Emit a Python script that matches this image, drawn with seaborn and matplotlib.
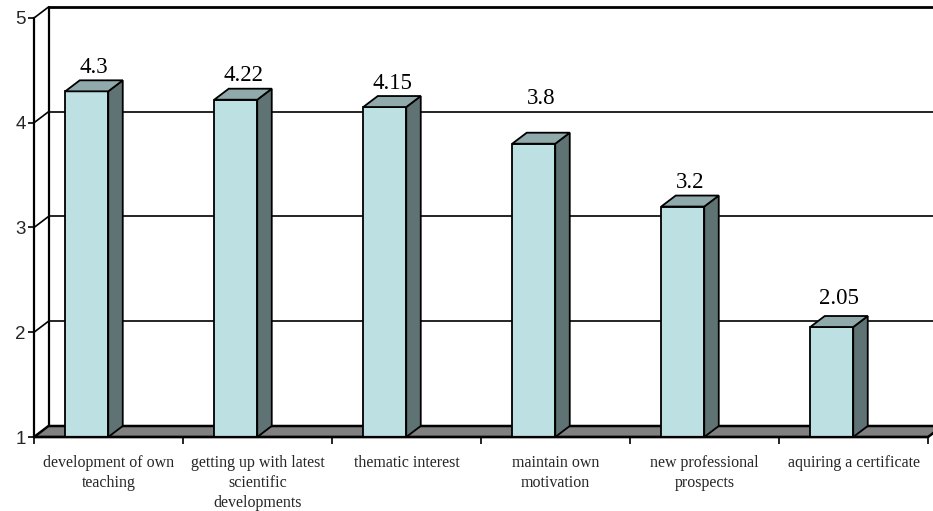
import numpy as np
import pandas as pd
import matplotlib
matplotlib.use("Agg")
import matplotlib.pyplot as plt
from matplotlib.patches import Polygon
import seaborn as sns

# Survey results: mean rating per motive
categories = [
    "development of own\nteaching",
    "getting up with latest\nscientific\ndevelopments",
    "thematic interest",
    "maintain own\nmotivation",
    "new professional\nprospects",
    "aquiring a certificate",
]
scores = [4.3, 4.22, 4.15, 3.8, 3.2, 2.05]
value_labels = ["4.3", "4.22", "4.15", "3.8", "3.2", "2.05"]
y_ticks = [1, 2, 3, 4, 5]

# colours of the pseudo-3D bars
FRONT = "#BDE0E3"
TOP = "#90AAAC"
SIDE = "#5F7374"
FLOOR = "#808080"

sns.set_style("white")
plt.rcParams["font.family"] = ["Liberation Sans", "DejaVu Sans"]

W, H = 933, 511
fig = plt.figure(figsize=(W / 100, H / 100), dpi=100)
# front plane of the chart in pixels: x 34..928, y 18..437
L, R, T, B = 34, 928, 18, 437
ax = fig.add_axes([L / W, (H - B) / H, (R - L) / W, (B - T) / H])
n = len(categories)
x_lo, x_hi = -0.5, n - 0.5
y_lo, y_hi = 1, 5
sx = (x_hi - x_lo) / (R - L)   # data units per pixel
sy = (y_hi - y_lo) / (B - T)
dx, dy = 14.5 * sx, 11 * sy     # depth offset of the back plane

bar_w = 43 * sx
shift = 21.75 * sx

df = pd.DataFrame({"pos": np.arange(n) - shift, "score": scores})

# floor
floor = Polygon([(x_lo, y_lo), (x_hi, y_lo), (x_hi + dx, y_lo + dy), (x_lo + dx, y_lo + dy)],
                closed=True, facecolor=FLOOR, edgecolor="black", lw=1.8,
                clip_on=False, zorder=1)
ax.add_patch(floor)

# back wall: left edge, top edge and gridlines
ax.plot([x_lo + dx, x_lo + dx], [y_lo + dy, y_hi + dy], color="black", lw=1.6,
        clip_on=False, zorder=1)
for k in y_ticks[1:]:
    ax.plot([x_lo + dx, x_hi + dx + 1], [k + dy, k + dy], color="black",
            lw=2.0 if k == y_hi else 1.2, clip_on=False, zorder=1)
    ax.plot([x_lo, x_lo + dx], [k, k + dy], color="black", lw=1.2,
            clip_on=False, zorder=1)

sns.barplot(data=df, x="pos", y="score", native_scale=True, width=bar_w,
            color=FRONT, edgecolor="black", linewidth=1.3, saturation=1,
            errorbar=None, ax=ax, zorder=3)

# top and side faces for each bar
label_nudge = [0, 0, 0, 21, 0, 5]
for i, (p, h) in enumerate(zip(df["pos"], df["score"])):
    x0 = p - bar_w / 2
    x1 = p + bar_w / 2
    top = Polygon([(x0, h), (x1, h), (x1 + dx, h + dy), (x0 + dx, h + dy)],
                  closed=True, facecolor=TOP, edgecolor="black", lw=1.3,
                  zorder=3, clip_on=False)
    side = Polygon([(x1, y_lo), (x1 + dx, y_lo + dy), (x1 + dx, h + dy), (x1, h)],
                   closed=True, facecolor=SIDE, edgecolor="black", lw=1.3,
                   zorder=3, clip_on=False)
    ax.add_patch(side)
    ax.add_patch(top)
    ax.annotate(value_labels[i], (x0 + (bar_w + dx) / 2, h + dy),
                xytext=(0, (13 + label_nudge[i]) * 0.72), textcoords="offset points",
                ha="center", va="center", fontsize=16.5, family="Liberation Serif",
                color="black", annotation_clip=False)

ax.set_xlim(x_lo, x_hi)
ax.set_ylim(y_lo, y_hi)
ax.set_xlabel("")
ax.set_ylabel("")

for s in ["top", "right"]:
    ax.spines[s].set_visible(False)
for s in ["left", "bottom"]:
    ax.spines[s].set_color("black")
    ax.spines[s].set_linewidth(1.6)
    ax.spines[s].set_zorder(4)

ax.set_yticks(y_ticks)
ax.set_yticklabels([str(v) for v in y_ticks], fontsize=13.5)
ax.tick_params(axis="y", direction="out", length=4, width=1.2, color="black",
               pad=2, left=True)

ax.set_xticks(np.arange(n + 1) - 0.5)
ax.set_xticklabels([])
ax.tick_params(axis="x", which="major", direction="out", length=5, width=1.2,
               color="black", bottom=True)
ax.set_xticks(np.arange(n), minor=True)
ax.set_xticklabels(categories, minor=True, fontsize=11.5, family="Liberation Serif",
                   linespacing=1.35)
ax.tick_params(axis="x", which="minor", length=0, pad=13)

fig.savefig("out.png", dpi=100)
